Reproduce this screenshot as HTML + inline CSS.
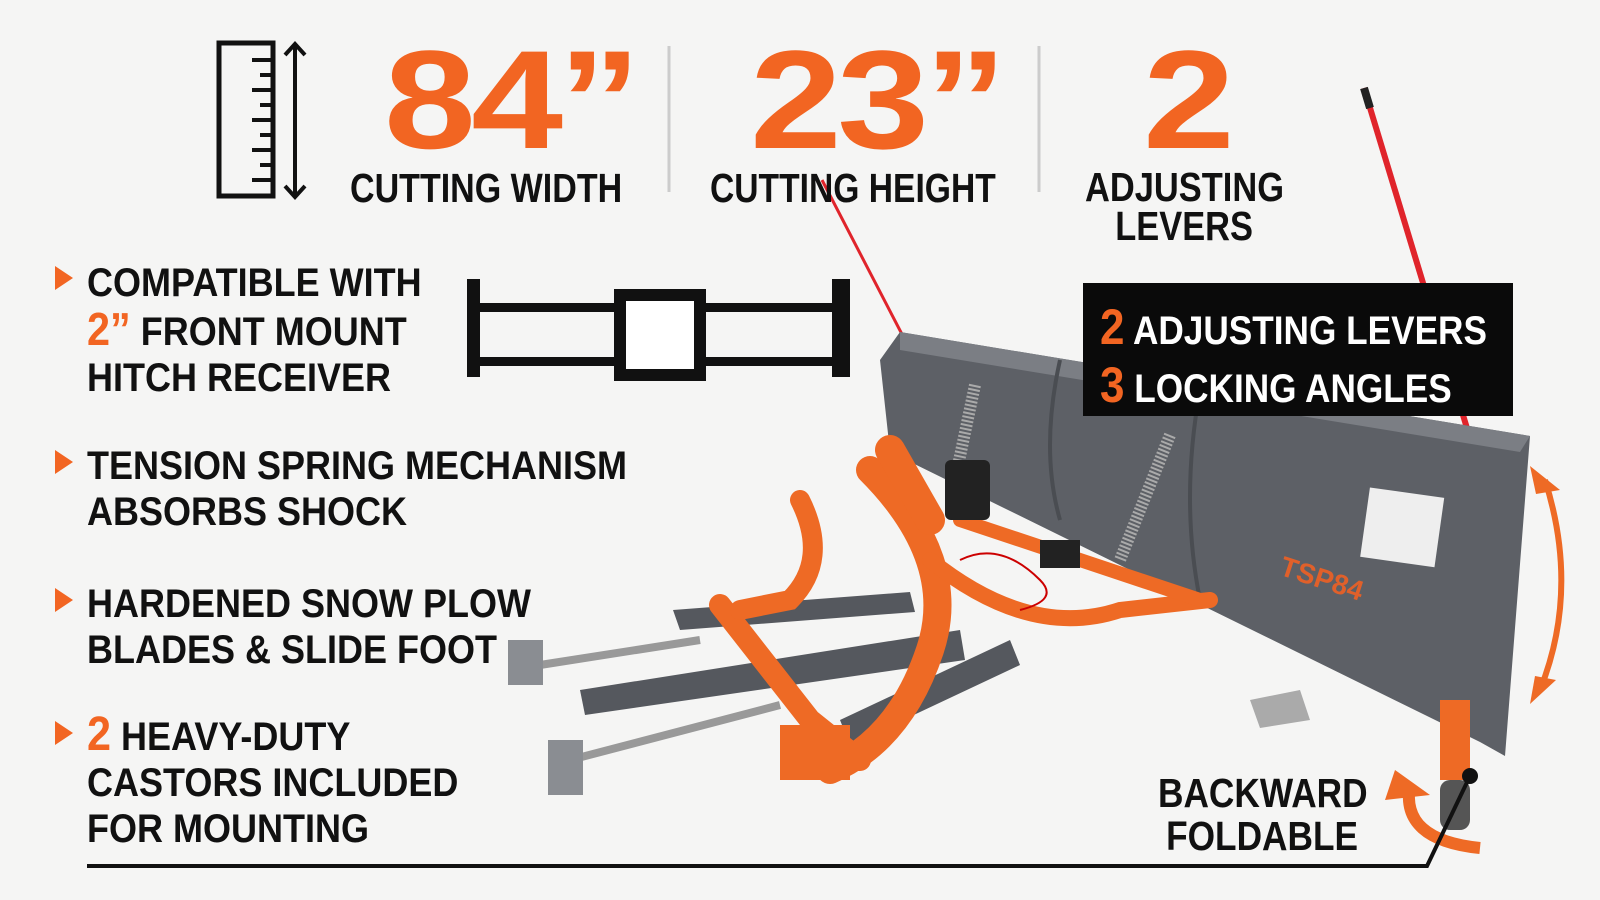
<!DOCTYPE html>
<html><head><meta charset="utf-8"><style>
body{margin:0;width:1600px;height:900px;background:#f5f5f4;overflow:hidden;position:relative;font-family:"Liberation Sans",sans-serif;}
.t{position:absolute;font-weight:bold;color:#111;white-space:nowrap;line-height:1;transform-origin:0 0;}
.big{position:absolute;font-weight:bold;color:#f26522;line-height:1;white-space:nowrap;transform-origin:0 0;}
.o{color:#f26522;}
.tri{position:absolute;left:55px;width:0;height:0;border-left:18px solid #f26522;border-top:12px solid transparent;border-bottom:12px solid transparent;}
</style></head><body>
<svg width="1600" height="900" style="position:absolute;left:0;top:0">
 <rect x="219" y="43" width="54" height="153" fill="none" stroke="#111" stroke-width="5"/>
 <g stroke="#111" stroke-width="4">
  <line x1="252" y1="60" x2="271" y2="60"/><line x1="260" y1="75" x2="271" y2="75"/><line x1="252" y1="90" x2="271" y2="90"/><line x1="260" y1="105" x2="271" y2="105"/><line x1="252" y1="120" x2="271" y2="120"/><line x1="260" y1="135" x2="271" y2="135"/><line x1="252" y1="150" x2="271" y2="150"/><line x1="260" y1="165" x2="271" y2="165"/><line x1="252" y1="180" x2="271" y2="180"/>
  <line x1="295" y1="45" x2="295" y2="196"/>
 </g>
 <polyline points="285,55 295,44 305,55" fill="none" stroke="#111" stroke-width="4"/>
 <polyline points="285,186 295,197 305,186" fill="none" stroke="#111" stroke-width="4"/>
 <line x1="669" y1="46" x2="669" y2="192" stroke="#ccc" stroke-width="3"/>
 <line x1="1039" y1="46" x2="1039" y2="192" stroke="#ccc" stroke-width="3"/>
 <rect x="467" y="279" width="13" height="98" fill="#111"/>
 <rect x="832" y="279" width="18" height="98" fill="#111"/>
 <rect x="480" y="303" width="352" height="9" fill="#111"/>
 <rect x="480" y="357" width="352" height="9" fill="#111"/>
 <rect x="620" y="295" width="80" height="80" fill="#fff" stroke="#111" stroke-width="12"/>
 <line x1="822" y1="180" x2="906" y2="342" stroke="#e0242b" stroke-width="3"/>
 <line x1="1364" y1="88" x2="1476" y2="458" stroke="#e0242b" stroke-width="6"/>
 <line x1="1364" y1="88" x2="1370" y2="108" stroke="#222" stroke-width="8"/>
 <polygon points="900,332 1530,436 1505,756 1480,742 890,452 880,360" fill="#5d6066"/>
 <polygon points="900,332 1530,436 1520,452 900,350" fill="#7b7e84"/>
 <path d="M1060,360 Q1040,450 1060,520" stroke="#4a4d52" stroke-width="4" fill="none"/>
 <path d="M1200,390 Q1180,500 1200,600" stroke="#4a4d52" stroke-width="4" fill="none"/>
 <rect x="1365" y="492" width="75" height="70" fill="#eee" transform="rotate(8 1400 525)"/>
 <text x="1275" y="585" font-family="Liberation Sans" font-weight="bold" font-size="28" fill="#e0602a" transform="rotate(18 1310 590)">TSP84</text>
 <line x1="975" y1="385" x2="955" y2="480" stroke="#aaa" stroke-width="12" stroke-dasharray="2 2"/>
 <line x1="1170" y1="435" x2="1120" y2="560" stroke="#aaa" stroke-width="12" stroke-dasharray="2 2"/>
 <g fill="#55585e">
  <polygon points="673,610 910,592 915,612 680,630"/>
  <polygon points="580,690 960,630 965,660 585,715"/>
  <polygon points="840,720 1010,640 1020,665 850,745"/>
 </g>
 <g fill="none" stroke="#ee6a25" stroke-linecap="round">
  <path d="M720,605 L810,720 L860,760" stroke-width="22"/>
  <path d="M800,500 Q830,560 790,600 L740,610" stroke-width="20"/>
  <path d="M870,470 Q960,560 930,650 Q900,740 830,770" stroke-width="28"/>
  <path d="M890,450 L930,520" stroke-width="30"/>
  <path d="M930,560 Q1030,640 1120,610 L1210,600" stroke-width="16"/>
  <path d="M960,520 L1080,560 L1200,600" stroke-width="14"/>
 </g>
 <rect x="780" y="725" width="70" height="55" fill="#ee6a25"/>
 <rect x="945" y="460" width="45" height="60" rx="6" fill="#222"/>
 <path d="M960,560 Q1000,540 1040,580 Q1060,600 1020,610" stroke="#c00" stroke-width="2" fill="none"/>
 <rect x="1040" y="540" width="40" height="28" fill="#222"/>
 <g stroke="#999" stroke-width="8"><line x1="540" y1="665" x2="700" y2="640"/><line x1="570" y1="760" x2="780" y2="705"/></g>
 <g fill="#8a8d92"><rect x="508" y="640" width="35" height="45"/><rect x="548" y="740" width="35" height="55"/></g>
 <polygon points="1250,700 1300,690 1310,720 1260,728" fill="#aaa"/>
 <rect x="1440" y="700" width="30" height="80" fill="#ee6a25"/>
 <rect x="1440" y="780" width="30" height="50" rx="10" fill="#555"/>
 <rect x="1083" y="283" width="430" height="133" fill="#0a0a0a"/>
 <path d="M1545,480 Q1580,590 1540,690" fill="none" stroke="#ee6a25" stroke-width="6"/>
 <polygon points="1530,466 1560,490 1536,494" fill="#ee6a25"/>
 <polygon points="1530,704 1556,680 1535,676" fill="#ee6a25"/>
 <path d="M1410,785 Q1400,840 1480,848" fill="none" stroke="#ee6a25" stroke-width="12"/>
 <polygon points="1395,770 1430,795 1385,800" fill="#ee6a25"/>
 <polyline points="87,866 1427,866 1470,776" fill="none" stroke="#111" stroke-width="4"/>
 <circle cx="1470" cy="776" r="8" fill="#111"/>
</svg>

<div class="big" style="left:384px;top:30px;font-size:140px;letter-spacing:-4px;transform:scaleX(1.18)">84”</div>
<div class="big" style="left:750px;top:30px;font-size:140px;letter-spacing:-4px;transform:scaleX(1.18)">23”</div>
<div class="big" style="left:1143px;top:30px;font-size:140px;transform:scaleX(1.18)">2</div>

<div class="t" style="left:350px;top:168px;font-size:41px;transform:scaleX(0.83)">CUTTING WIDTH</div>
<div class="t" style="left:710px;top:168px;font-size:41px;transform:scaleX(0.82)">CUTTING HEIGHT</div>
<div class="t" style="left:1085px;top:168px;font-size:41px;width:236px;text-align:center;line-height:39px;transform:scaleX(0.84)">ADJUSTING<br>LEVERS</div>

<div class="tri" style="top:266px"></div>
<div class="t" style="left:87px;top:260px;font-size:40px;line-height:46px;transform:scaleX(0.9)">COMPATIBLE WITH<br><span class="o" style="font-size:46px">2”</span> FRONT MOUNT<br>HITCH RECEIVER</div>
<div class="tri" style="top:450px"></div>
<div class="t" style="left:87px;top:443px;font-size:40px;line-height:46px;transform:scaleX(0.9)">TENSION SPRING MECHANISM<br>ABSORBS SHOCK</div>
<div class="tri" style="top:588px"></div>
<div class="t" style="left:87px;top:581px;font-size:40px;line-height:46px;transform:scaleX(0.9)">HARDENED SNOW PLOW<br>BLADES &amp; SLIDE FOOT</div>
<div class="tri" style="top:721px"></div>
<div class="t" style="left:87px;top:712px;font-size:40px;line-height:46px;transform:scaleX(0.9)"><span class="o" style="font-size:48px">2</span> HEAVY-DUTY<br>CASTORS INCLUDED<br>FOR MOUNTING</div>

<div class="t" style="left:1100px;top:300px;font-size:40px;color:#fff;line-height:54px;transform:scaleX(0.88)"><span class="o" style="font-size:50px">2</span> ADJUSTING LEVERS<br><span class="o" style="font-size:50px">3</span> LOCKING ANGLES</div>

<div class="t" style="left:1158px;top:772px;font-size:41px;width:242px;text-align:center;line-height:43px;transform:scaleX(0.86)">BACKWARD<br>FOLDABLE</div>
</body></html>
